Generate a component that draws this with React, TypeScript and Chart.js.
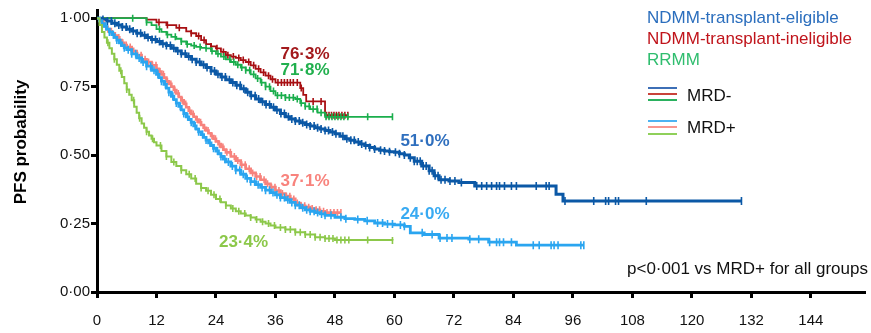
import React, { useEffect, useRef } from 'react';
import { Chart, registerables } from 'chart.js';
Chart.register(...registerables);

// ---------- DATA ----------
const xTicks = [0, 12, 24, 36, 48, 60, 72, 84, 96, 108, 120, 132, 144];
const yTicks = [0, 0.25, 0.5, 0.75, 1.0];

// NDMM transplant-eligible, MRD-
const teNegT = [0, 1, 2, 3, 4, 5, 6, 7, 8, 9, 10, 11, 12, 13, 14, 15, 16, 17, 18, 19, 20, 21, 22, 23, 24, 25, 26, 27, 28, 29, 30, 31, 32, 33, 34, 35, 36, 37, 38, 39, 40, 41, 42, 43, 44, 45, 46, 47, 48, 49, 50, 51, 52, 53, 54, 55, 56, 57, 58, 59, 60, 61, 62, 63, 64, 65.5, 67, 68, 69, 71, 73, 76.2, 92.6, 94, 130];
const teNegS = [1, 0.995, 0.99, 0.982, 0.975, 0.968, 0.96, 0.953, 0.945, 0.938, 0.93, 0.922, 0.915, 0.907, 0.9, 0.89, 0.88, 0.87, 0.86, 0.85, 0.84, 0.83, 0.82, 0.807, 0.795, 0.785, 0.775, 0.765, 0.755, 0.742, 0.73, 0.717, 0.705, 0.695, 0.685, 0.675, 0.665, 0.652, 0.64, 0.632, 0.625, 0.618, 0.612, 0.606, 0.6, 0.595, 0.59, 0.584, 0.578, 0.569, 0.56, 0.554, 0.548, 0.541, 0.535, 0.528, 0.522, 0.518, 0.515, 0.512, 0.51, 0.505, 0.5, 0.49, 0.478, 0.46, 0.443, 0.425, 0.41, 0.405, 0.4, 0.387, 0.357, 0.332, 0.332];
const teNegCens = [1.2, 2.1, 2.9, 3.6, 4.4, 5.1, 5.9, 6.6, 7.3, 8.1, 8.8, 9.6, 10.3, 11.1, 11.8, 12.6, 13.3, 14.0, 14.8, 15.5, 16.3, 17.0, 17.8, 18.5, 19.2, 20.0, 20.7, 21.5, 22.2, 23.0, 23.7, 24.4, 25.2, 25.9, 26.7, 27.4, 28.2, 28.9, 29.6, 30.4, 31.1, 31.9, 32.6, 33.4, 34.1, 34.8, 35.6, 36.3, 37.1, 37.8, 38.6, 39.3, 40.0, 40.8, 41.5, 42.3, 43.0, 43.8, 44.5, 45.2, 46.0, 46.7, 47.5, 48.2, 49.6, 50.4, 51.2, 51.9, 52.7, 53.4, 54.2, 55.0, 56.0, 57.2, 58.0, 59.0, 60.2, 61.0, 62.0, 63.2, 64.0, 64.6, 65.2, 65.8, 66.4, 67.0, 67.6, 68.2, 68.8, 69.4, 70.2, 71.2, 72.2, 73.5, 76.6, 77.6, 78.6, 79.6, 80.6, 81.2, 82.2, 83.6, 84.6, 88.6, 90.6, 91.2, 94.4, 100.2, 102.6, 103.2, 104.6, 105.2, 110.8, 130];

// NDMM transplant-ineligible, MRD-
const tieNegT = [0, 9, 10, 12, 14, 16, 18, 19, 20, 21, 22, 23, 24, 25, 26, 27, 28, 29, 30, 31, 32, 33, 34, 35, 36, 41, 41.6, 42.2, 46, 50.6];
const tieNegS = [1, 1, 0.995, 0.985, 0.975, 0.965, 0.952, 0.945, 0.935, 0.92, 0.905, 0.897, 0.89, 0.877, 0.865, 0.86, 0.855, 0.847, 0.84, 0.828, 0.815, 0.802, 0.79, 0.777, 0.765, 0.745, 0.72, 0.696, 0.646, 0.646];
const tieNegCens = [12.5, 14.2, 16.6, 19.0, 20.5, 21.6, 23.0, 24.2, 25.5, 26.4, 27.5, 28.6, 29.5, 30.6, 31.6, 32.6, 33.6, 34.6, 35.4, 36.5, 37.2, 37.8, 38.4, 39.0, 39.6, 40.4, 41.2, 43.6, 45.2, 46.3, 46.8, 47.3, 47.8, 48.3, 48.8, 49.4, 50.0, 50.6];

// RRMM, MRD-
const rrNegT = [0, 8, 10, 11, 12, 13, 14, 15, 16, 17, 18, 19, 20, 21, 22, 23, 24, 25, 26, 27, 28, 29, 30, 31, 32, 33, 34, 35, 36, 38, 40, 41, 42, 43, 44.5, 46, 59.6];
const rrNegS = [1, 1, 0.985, 0.975, 0.96, 0.95, 0.94, 0.932, 0.925, 0.915, 0.905, 0.9, 0.895, 0.892, 0.89, 0.88, 0.87, 0.86, 0.85, 0.84, 0.83, 0.82, 0.81, 0.795, 0.78, 0.765, 0.75, 0.734, 0.718, 0.71, 0.705, 0.69, 0.678, 0.668, 0.655, 0.64, 0.64];
const rrNegCens = [7.2, 10.0, 12.6, 14.2, 15.8, 17.0, 18.2, 19.6, 20.8, 22.0, 23.2, 24.4, 25.6, 26.8, 27.6, 28.4, 29.2, 30.0, 30.8, 31.6, 32.4, 33.2, 34.0, 34.8, 35.6, 36.4, 37.2, 38.0, 38.8, 39.6, 40.4, 41.2, 42.0, 42.8, 43.6, 44.4, 45.2, 46.2, 46.8, 47.4, 48.0, 48.6, 49.2, 49.8, 50.6, 54.6, 59.6];

// NDMM transplant-eligible, MRD+
const tePosT = [0, 0.5, 1, 1.5, 2, 2.5, 3, 3.5, 4, 4.5, 5, 5.5, 6, 7, 8, 9, 10, 11, 12, 12.5, 13, 13.5, 14, 14.5, 15, 15.5, 16, 16.5, 17, 17.5, 18, 18.5, 19, 19.5, 20, 20.5, 21, 21.5, 22, 22.5, 23, 23.5, 24, 24.5, 25, 25.5, 26, 27, 28, 29, 30, 31, 32, 33, 34, 35, 36, 37, 38, 39, 40, 41, 42, 43, 44, 45, 46, 48, 50, 52, 54, 56, 58, 60, 62, 63.2, 66, 69, 75, 79, 84.6, 98.2];
const tePosS = [1, 0.99, 0.98, 0.97, 0.96, 0.95, 0.94, 0.93, 0.92, 0.91, 0.9, 0.892, 0.885, 0.87, 0.855, 0.84, 0.825, 0.81, 0.795, 0.783, 0.77, 0.758, 0.745, 0.73, 0.715, 0.703, 0.69, 0.678, 0.665, 0.652, 0.64, 0.63, 0.62, 0.607, 0.595, 0.585, 0.575, 0.565, 0.555, 0.545, 0.535, 0.525, 0.515, 0.505, 0.495, 0.485, 0.475, 0.46, 0.445, 0.43, 0.415, 0.403, 0.392, 0.382, 0.372, 0.363, 0.355, 0.345, 0.337, 0.327, 0.317, 0.308, 0.3, 0.295, 0.29, 0.285, 0.28, 0.273, 0.268, 0.265, 0.26, 0.252, 0.248, 0.245, 0.24, 0.216, 0.21, 0.197, 0.193, 0.182, 0.171, 0.171];
const tePosCens = [1.0, 1.8, 2.5, 3.3, 4.0, 4.8, 5.5, 6.3, 7.0, 7.8, 8.5, 9.3, 10.0, 10.8, 11.5, 12.3, 13.0, 13.8, 14.5, 15.3, 16.0, 16.8, 17.5, 18.3, 19.0, 19.8, 20.5, 21.3, 22.0, 22.8, 23.5, 24.3, 25.0, 25.8, 26.5, 27.3, 28.0, 28.8, 29.5, 30.3, 31.0, 31.8, 32.5, 33.3, 34.0, 34.8, 35.5, 36.3, 37.0, 37.8, 38.5, 39.3, 40.0, 40.8, 41.5, 42.3, 43.0, 43.8, 44.5, 45.3, 46.0, 47.2, 49.2, 50.2, 52.6, 54.5, 56.6, 57.6, 58.6, 59.6, 61.2, 62.0, 65.6, 67.6, 69.2, 70.6, 71.6, 75.2, 77.0, 79.2, 80.6, 81.2, 82.0, 83.6, 88.0, 89.2, 91.6, 92.2, 93.0, 97.6, 98.2];

// NDMM transplant-ineligible, MRD+
const tiePosT = [0, 0.5, 1, 1.5, 2, 2.5, 3, 3.5, 4, 4.5, 5, 5.5, 6, 7, 8, 9, 10, 11, 12, 12.5, 13, 13.5, 14, 14.5, 15, 15.5, 16, 16.5, 17, 17.5, 18, 18.5, 19, 19.5, 20, 20.5, 21, 21.5, 22, 22.5, 23, 23.5, 24, 24.5, 25, 25.5, 26, 27, 28, 29, 30, 31, 32, 33, 34, 35, 36, 37, 38, 39, 40, 41, 42, 43, 44, 45, 46, 49.2];
const tiePosS = [1, 0.99, 0.98, 0.97, 0.96, 0.952, 0.945, 0.937, 0.93, 0.92, 0.91, 0.902, 0.895, 0.88, 0.865, 0.85, 0.84, 0.828, 0.815, 0.805, 0.795, 0.783, 0.77, 0.76, 0.75, 0.738, 0.725, 0.712, 0.7, 0.687, 0.675, 0.662, 0.65, 0.64, 0.63, 0.62, 0.61, 0.6, 0.59, 0.58, 0.57, 0.56, 0.55, 0.54, 0.53, 0.52, 0.51, 0.495, 0.48, 0.465, 0.45, 0.435, 0.422, 0.41, 0.395, 0.383, 0.371, 0.36, 0.35, 0.34, 0.325, 0.315, 0.31, 0.305, 0.3, 0.295, 0.29, 0.29];
const tiePosCens = [1.4, 2.2, 2.9, 3.7, 4.4, 5.2, 5.9, 6.7, 7.4, 8.2, 8.9, 9.7, 10.4, 11.2, 11.9, 12.7, 13.4, 14.2, 14.9, 15.7, 16.4, 17.2, 17.9, 18.7, 19.4, 20.2, 20.9, 21.7, 22.4, 23.2, 23.9, 24.7, 25.4, 26.2, 26.9, 27.7, 28.4, 29.2, 29.9, 30.7, 31.4, 32.2, 32.9, 33.7, 34.4, 35.2, 35.9, 36.7, 37.4, 38.2, 38.9, 39.7, 40.4, 41.2, 41.9, 42.7, 43.4, 44.2, 44.9, 45.7, 46.4, 47.1, 47.8, 48.5, 49.2];

// RRMM, MRD+
const rrPosT = [0, 0.5, 1, 1.5, 2, 2.5, 3, 3.5, 4, 4.5, 5, 5.5, 6, 6.5, 7, 7.5, 8, 8.5, 9, 9.5, 10, 10.5, 11, 11.5, 12, 13, 14, 15, 16, 17, 18, 19, 20, 21, 22, 23, 24, 25, 26, 27, 28, 29, 30, 31, 32, 33, 34, 35, 36, 38, 40, 42, 44, 46, 48, 59.6];
const rrPosS = [1, 0.975, 0.95, 0.93, 0.91, 0.89, 0.87, 0.85, 0.83, 0.808, 0.785, 0.762, 0.74, 0.72, 0.7, 0.677, 0.655, 0.635, 0.615, 0.6, 0.585, 0.572, 0.56, 0.547, 0.535, 0.515, 0.495, 0.475, 0.46, 0.445, 0.43, 0.415, 0.395, 0.38, 0.37, 0.355, 0.34, 0.328, 0.316, 0.305, 0.295, 0.287, 0.279, 0.272, 0.265, 0.257, 0.25, 0.243, 0.236, 0.228, 0.218, 0.21, 0.2, 0.195, 0.19, 0.188];
const rrPosCens = [2.2, 3.5, 4.8, 6.0, 7.4, 8.6, 10.0, 11.2, 12.8, 14.0, 15.5, 17.0, 18.6, 19.8, 21.0, 22.4, 23.6, 24.8, 26.0, 27.4, 28.6, 29.8, 31.0, 32.2, 33.4, 34.6, 35.8, 37.0, 38.0, 39.0, 40.0, 41.0, 42.0, 43.0, 44.0, 45.0, 46.0, 46.8, 47.6, 48.4, 49.2, 50.0, 50.8, 54.6, 59.6];

const groupLabels = ['NDMM-transplant-eligible', 'NDMM-transplant-ineligible', 'RRMM'];
const mrdLabels = ['MRD-', 'MRD+'];
const pctLabels = ['76·3%', '71·8%', '51·0%', '37·1%', '24·0%', '23·4%'];
const pNote = 'p<0·001 vs MRD+ for all groups';
const yTitle = 'PFS probability';

// ---------- STYLE ----------
const FONT = '"Liberation Sans", Arial, Helvetica, sans-serif';
const C = {
  teNeg: '#0b58a6',
  tieNeg: '#a80f12',
  rrNeg: '#1aae4c',
  tePos: '#2aa5f0',
  tiePos: '#f7827c',
  rrPos: '#8cc84a',
};

function survAt(t: number[], s: number[], x: number) {
  let v = s[0];
  for (let i = 0; i < t.length; i++) {
    if (t[i] <= x) v = s[i];
    else break;
  }
  return v;
}

const series = [
  { t: rrPosT, s: rrPosS, c: rrPosCens, color: C.rrPos, w: 2, r: 3.5 },
  { t: tePosT, s: tePosS, c: tePosCens, color: C.tePos, w: 2.8, r: 4 },
  { t: tiePosT, s: tiePosS, c: tiePosCens, color: C.tiePos, w: 2.6, r: 3.5 },
  { t: teNegT, s: teNegS, c: teNegCens, color: C.teNeg, w: 3, r: 4 },
  { t: rrNegT, s: rrNegS, c: rrNegCens, color: C.rrNeg, w: 1.8, r: 3.5 },
  { t: tieNegT, s: tieNegS, c: tieNegCens, color: C.tieNeg, w: 1.8, r: 3.5 },
];

const textPlugin = {
  id: 'texts',
  afterDraw(chart: any) {
    const ctx = chart.ctx;
    const xs = chart.scales.x;
    const ys = chart.scales.y;
    ctx.save();
    // y title
    ctx.save();
    ctx.translate(21, 142);
    ctx.rotate(-Math.PI / 2);
    ctx.font = `bold 17px ${FONT}`;
    ctx.fillStyle = '#000';
    ctx.textAlign = 'center';
    ctx.textBaseline = 'middle';
    ctx.fillText(yTitle, 0, 0);
    ctx.restore();

    // percentage labels
    const pct = [
      { x: 37, y: 0.868, c: '#a31a1d' },
      { x: 37, y: 0.809, c: '#21b04e' },
      { x: 61.2, y: 0.55, c: '#2f6fbe' },
      { x: 37, y: 0.404, c: '#f8837d' },
      { x: 61.2, y: 0.284, c: '#38aaf2' },
      { x: 24.6, y: 0.182, c: '#8cc84a' },
    ];
    ctx.font = `bold 17px ${FONT}`;
    ctx.textAlign = 'left';
    ctx.textBaseline = 'middle';
    pct.forEach((p, i) => {
      ctx.fillStyle = p.c;
      ctx.fillText(pctLabels[i], xs.getPixelForValue(p.x), ys.getPixelForValue(p.y));
    });

    // legend
    ctx.font = `17px ${FONT}`;
    const gCols = ['#2b6ebd', '#c0141b', '#2fbd6e'];
    const gY = [18, 39, 60];
    groupLabels.forEach((g, i) => {
      ctx.fillStyle = gCols[i];
      ctx.fillText(g, 647, gY[i]);
    });
    const negCols = ['#3d6fb6', '#c9423a', '#2ab15f'];
    const posCols = ['#4db3f2', '#f8968f', '#8fd05a'];
    const negY = [88, 94, 100];
    const posY = [121, 127, 134];
    ctx.lineWidth = 2;
    negCols.forEach((c, i) => {
      ctx.strokeStyle = c;
      ctx.beginPath();
      ctx.moveTo(648, negY[i]);
      ctx.lineTo(677, negY[i]);
      ctx.stroke();
    });
    posCols.forEach((c, i) => {
      ctx.strokeStyle = c;
      ctx.beginPath();
      ctx.moveTo(648, posY[i]);
      ctx.lineTo(677, posY[i]);
      ctx.stroke();
    });
    ctx.fillStyle = '#111';
    ctx.fillText(mrdLabels[0], 687, 96);
    ctx.fillText(mrdLabels[1], 687, 128);

    // p note
    ctx.fillStyle = '#111';
    ctx.fillText(pNote, 627, 269);
    ctx.restore();
  },
};

export default function App() {
  const ref = useRef<HTMLCanvasElement>(null);
  useEffect(() => {
    if (!ref.current) return;
    Chart.defaults.font.family = FONT;
    const datasets: any[] = [];
    series.forEach((sr) => {
      datasets.push({
        type: 'line',
        data: sr.t.map((x, i) => ({ x, y: sr.s[i] })),
        stepped: 'before',
        borderColor: sr.color,
        borderWidth: sr.w,
        pointRadius: 0,
        fill: false,
      });
      datasets.push({
        type: 'line',
        showLine: false,
        data: sr.c.map((x) => ({ x, y: survAt(sr.t, sr.s, x) })),
        pointStyle: 'line',
        rotation: 90,
        pointRadius: sr.r,
        pointBorderWidth: 1.6,
        pointBorderColor: sr.color,
        pointBackgroundColor: sr.color,
        borderColor: sr.color,
      });
    });
    const chart = new Chart(ref.current, {
      type: 'line',
      data: { datasets },
      options: {
        animation: false,
        responsive: false,
        events: [],
        layout: { padding: { top: 4, right: 0, left: 0, bottom: 0 } },
        plugins: { legend: { display: false }, tooltip: { enabled: false } },
        scales: {
          x: {
            type: 'linear',
            min: 0,
            max: 155,
            afterBuildTicks: (s: any) => {
              s.ticks = xTicks.map((v) => ({ value: v }));
            },
            afterFit: (s: any) => {
              s.height = 41;
            },
            border: { display: true, color: '#000', width: 3 },
            grid: {
              display: true,
              drawOnChartArea: false,
              drawTicks: true,
              tickLength: 6,
              tickWidth: 3,
              tickColor: '#000',
            },
            ticks: {
              color: '#111',
              font: { size: 15, family: FONT },
              padding: 14,
              maxRotation: 0,
              callback: (v: any) => String(v),
            },
          },
          y: {
            type: 'linear',
            min: 0,
            max: 1.03,
            afterBuildTicks: (s: any) => {
              s.ticks = yTicks.map((v) => ({ value: v }));
            },
            afterFit: (s: any) => {
              s.width = 97;
            },
            border: { display: true, color: '#000', width: 3 },
            grid: {
              display: true,
              drawOnChartArea: false,
              drawTicks: true,
              tickLength: 6,
              tickWidth: 3,
              tickColor: '#000',
            },
            ticks: {
              color: '#111',
              font: { size: 15, family: FONT },
              padding: 1,
              callback: (v: any) => Number(v).toFixed(2).replace('.', '·'),
            },
          },
        },
      },
      plugins: [textPlugin],
    } as any);
    return () => chart.destroy();
  }, []);
  return (
    <div style={{ position: 'fixed', left: 0, top: 0, width: 871, height: 333, background: '#fff' }}>
      <canvas ref={ref} width={871} height={333} style={{ display: 'block' }} />
    </div>
  );
}
